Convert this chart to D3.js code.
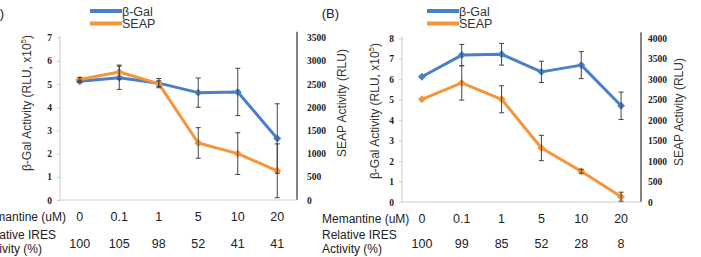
<!DOCTYPE html>
<html>
<head>
<meta charset="utf-8">
<script src="https://cdn.jsdelivr.net/npm/d3@7"></script>
<style>
  body { margin: 0; background: #fff; }
  svg { display: block; font-family: "Liberation Sans", Arial, sans-serif; }
  .tick text { font-family: "Liberation Serif", serif; font-weight: bold; font-size: 9.5px; fill: #222; }
</style>
</head>
<body>
<svg width="701" height="257"></svg>
<script>
// categories and table rows
var doses = ["0", "0.1", "1", "5", "10", "20"];
var iresA = ["100", "105", "98", "52", "41", "41"];
var iresB = ["100", "99", "85", "52", "28", "8"];

// panel A
var galA = [5.12, 5.27, 5.04, 4.63, 4.66, 2.65];
var galErrA = [0.05, 0.5, 0.2, 0.63, 1.02, 1.5];
var seapA = [2600, 2760, 2510, 1230, 1000, 630];
var seapErrA = [40, 150, 60, 330, 450, 580];

// panel B
var galB = [6.12, 7.18, 7.22, 6.36, 6.69, 4.7];
var galErrB = [0, 0.52, 0.53, 0.52, 0.66, 0.67];
var seapB = [2510, 2910, 2510, 1320, 750, 130];
var seapErrB = [0, 420, 330, 310, 50, 110];

var leftTicksA = [0, 1, 2, 3, 4, 5, 6, 7];
var rightTicksA = [0, 500, 1000, 1500, 2000, 2500, 3000, 3500];
var leftTicksB = [0, 1, 2, 3, 4, 5, 6, 7, 8];
var rightTicksB = [0, 500, 1000, 1500, 2000, 2500, 3000, 3500, 4000];

var blue = "#4a80c8", orange = "#f5953b";
var svg = d3.select("svg");

function panel(p) {
  var g = svg.append("g");
  var x = d3.scaleBand().domain(doses).range([p.x0, p.x1]);
  var yl = d3.scaleLinear().domain([0, p.lmax]).range([p.y0, p.ytop]);
  var yr = d3.scaleLinear().domain([0, p.rmax]).range([p.y0, p.ytop]);
  var cx = function(i) { return x(doses[i]) + x.bandwidth() / 2; };

  // axes
  var la = g.append("g").attr("transform", "translate(" + p.x0 + ",0)")
    .call(d3.axisLeft(yl).tickValues(p.lt).tickFormat(d3.format("d")).tickSize(3).tickPadding(5));
  la.select(".domain").attr("stroke", "#ccc").attr("d", "M0," + (p.ytop - 2) + "V" + p.y0);
  la.selectAll(".tick line").attr("stroke", "#ccc");
  var ra = g.append("g").attr("transform", "translate(" + p.x1 + ",0)")
    .call(d3.axisRight(yr).tickValues(p.rt).tickFormat(d3.format("d")).tickSize(0).tickPadding(p.rpad));
  ra.select(".domain").attr("stroke", "#333").attr("stroke-width", 1.2)
    .attr("d", "M0," + (p.ytop - 6) + "V" + p.y0);
  g.append("line").attr("x1", p.x0).attr("x2", p.x1).attr("y1", p.y0).attr("y2", p.y0)
    .attr("stroke", "#ccc");

  // axis titles
  var lt = g.append("text").attr("transform", "translate(" + p.ltx + "," + p.lty + ") rotate(-90)")
    .attr("text-anchor", "middle").attr("font-size", 12).attr("fill", "#333");
  lt.append("tspan").text("\u03b2-Gal  Activity (RLU, x10");
  lt.append("tspan").text("5").attr("font-size", 8).attr("dy", -5);
  lt.append("tspan").text(")").attr("dy", 5);
  g.append("text").attr("transform", "translate(" + p.rtx + "," + p.rty + ") rotate(-90)")
    .attr("text-anchor", "middle").attr("font-size", 12).attr("fill", "#333")
    .text("SEAP  Activity (RLU)");

  // series
  var series = [
    { v: p.gal, e: p.galErr, y: yl, c: blue },
    { v: p.seap, e: p.seapErr, y: yr, c: orange }
  ];
  series.forEach(function(s) {
    var pts = s.v.map(function(v, i) { return { i: i, v: v, e: s.e[i] }; });
    var line = d3.line().x(function(d) { return cx(d.i); }).y(function(d) { return s.y(d.v); });
    g.append("path").datum(pts).attr("d", line).attr("fill", "none")
      .attr("stroke", s.c).attr("stroke-width", 3).attr("stroke-linejoin", "round");
    g.selectAll(null).data(pts).enter().append("path")
      .attr("d", d3.symbol(d3.symbolDiamond2, 40)())
      .attr("transform", function(d) { return "translate(" + cx(d.i) + "," + s.y(d.v) + ")"; })
      .attr("fill", s.c);
    s.pts = pts;
  });
  series.forEach(function(s) {
    var eb = g.selectAll(null).data(s.pts.filter(function(d) { return d.e > 0; }))
      .enter().append("g").attr("stroke", "#444").attr("stroke-width", 1);
    var hi = function(d) { return s.y(d.v + d.e); };
    var lo = function(d) { return s.y(Math.max(0, d.v - d.e)); };
    eb.append("line").attr("x1", function(d) { return cx(d.i); }).attr("x2", function(d) { return cx(d.i); })
      .attr("y1", hi).attr("y2", lo);
    [hi, lo].forEach(function(f) {
      eb.append("line")
        .attr("x1", function(d) { return cx(d.i) - 2.5; })
        .attr("x2", function(d) { return cx(d.i) + 2.5; })
        .attr("y1", f).attr("y2", f);
    });
  });

  // legend
  var lg = g.append("g").attr("font-size", 12.5).attr("fill", "#333");
  [["\u03b2-Gal", blue, 11], ["SEAP", orange, 23.5]].forEach(function(l) {
    lg.append("line").attr("x1", p.lgx).attr("x2", p.lgx + 32).attr("y1", l[2]).attr("y2", l[2])
      .attr("stroke", l[1]).attr("stroke-width", 4);
    lg.append("text").attr("x", p.lgx + 32).attr("y", l[2] + 4.5).text(l[0]);
  });

  // panel letter
  g.append("text").attr("x", p.letx).attr("y", 18).attr("text-anchor", "end")
    .attr("font-size", 13).attr("fill", "#222").text(p.letter);

  // table rows under the chart
  var t = g.append("g").attr("font-size", 12).attr("fill", "#222");
  t.append("text").attr("x", p.memx).attr("y", p.y0 + 21).attr("text-anchor", p.anchor).text("Memantine (uM)");
  t.append("text").attr("x", p.relx).attr("y", 239).attr("text-anchor", p.anchor).text("Relative IRES");
  t.append("text").attr("x", p.actx).attr("y", 253).attr("text-anchor", p.anchor).text("Activity (%)");
  t.selectAll(null).data(doses).enter().append("text")
    .attr("x", function(d, i) { return cx(i); }).attr("y", p.y0 + 21)
    .attr("text-anchor", "middle").attr("font-size", 12.5).text(function(d) { return d; });
  t.selectAll(null).data(p.ires).enter().append("text")
    .attr("x", function(d, i) { return cx(i); }).attr("y", 248)
    .attr("text-anchor", "middle").attr("font-size", 12.5).text(function(d) { return d; });
}

panel({
  x0: 60, x1: 297, y0: 200, ytop: 37.7, lmax: 7, rmax: 3500, lt: leftTicksA, rt: rightTicksA, rpad: 10,
  gal: galA, galErr: galErrA, seap: seapA, seapErr: seapErrA, ires: iresA,
  ltx: 31, lty: 103, rtx: 346, rty: 103, lgx: 90, letter: "(A)", letx: 4,
  memx: 66, relx: 56, actx: 42, anchor: "end"
});
panel({
  x0: 402, x1: 641, y0: 202, ytop: 38.3, lmax: 8, rmax: 4000, lt: leftTicksB, rt: rightTicksB, rpad: 7,
  gal: galB, galErr: galErrB, seap: seapB, seapErr: seapErrB, ires: iresB,
  ltx: 379, lty: 111, rtx: 683, rty: 112, lgx: 427, letter: "(B)", letx: 339,
  memx: 322, relx: 322, actx: 322, anchor: "start"
});
</script>
</body>
</html>
